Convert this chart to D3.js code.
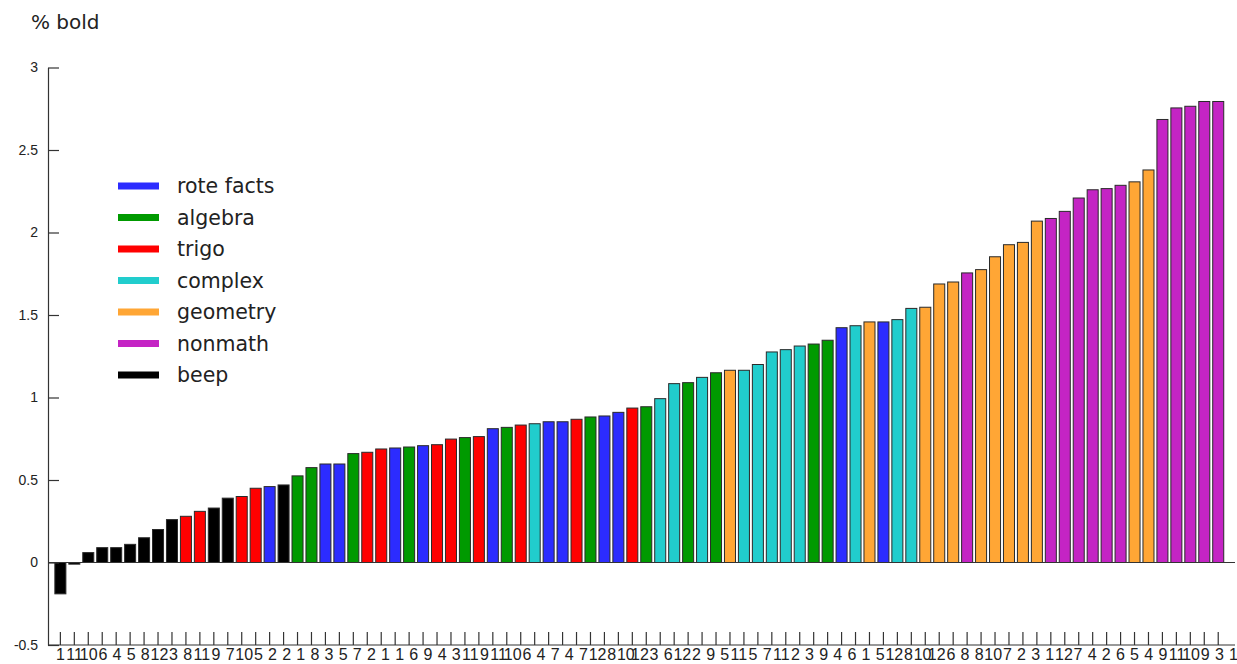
<!DOCTYPE html>
<html><head><meta charset="utf-8">
<script src="https://cdn.jsdelivr.net/npm/d3@7"></script>
<style>
html,body{margin:0;padding:0;background:#fff;}
svg{display:block;font-family:"Liberation Sans",Arial,sans-serif;}
</style></head>
<body><svg id="c" width="1237" height="664"></svg>
<script>
// ---- data ----
const barLabels = ["1","11","10","6","4","5","8","12","3","8","11","9","7",
"10","5","2","2","1","8","3","5","7","2","1","1","6","9",
"4","3","11","9","11","10","6","4","7","4","7","12","8","10",
"12","3","6","12","2","9","5","11","5","7","11","2","3","9",
"4","6","1","5","12","8","10","12","6","8","8","10","7","2",
"3","1","12","7","4","2","6","5","4","9","11","10","9","3","1"];

const barCategories = ["beep","beep","beep","beep","beep","beep","beep","beep","beep",
"trigo","trigo","beep","beep","trigo","trigo","rote facts","beep",
"algebra","algebra","rote facts","rote facts","algebra","trigo","trigo","rote facts","algebra","rote facts",
"trigo","trigo","algebra","trigo","rote facts","algebra","trigo","complex","rote facts","rote facts",
"trigo","algebra","rote facts","rote facts","trigo","algebra","complex","complex","algebra","complex",
"algebra","geometry","complex","complex","complex","complex","complex","algebra","algebra","rote facts",
"complex","geometry","rote facts","complex","complex","geometry","geometry","geometry","nonmath",
"geometry","geometry","geometry","geometry","geometry",
"nonmath","nonmath","nonmath","nonmath","nonmath","nonmath","geometry","geometry",
"nonmath","nonmath","nonmath","nonmath","nonmath"];

const barValues = [-0.19,-0.01,0.06,0.09,0.09,0.11,0.15,0.20,0.26,0.28,0.31,0.33,0.39,0.40,0.45,0.46,0.47,
0.525,0.575,0.597,0.597,0.66,0.668,0.688,0.694,0.70,0.708,0.714,0.748,0.757,0.763,0.811,0.819,0.833,0.841,
0.853,0.853,0.868,0.882,0.888,0.91,0.936,0.944,0.993,1.084,1.09,1.122,1.15,1.165,1.165,1.20,1.276,1.29,
1.312,1.324,1.347,1.423,1.435,1.458,1.458,1.472,1.54,1.547,1.688,1.70,1.755,1.775,1.853,1.926,1.94,
2.069,2.085,2.128,2.209,2.259,2.266,2.286,2.307,2.379,2.685,2.755,2.765,2.794,2.794];

const legendNames = ["rote facts","algebra","trigo","complex","geometry","nonmath","beep"];
const legendColors = ["#2c2cff","#009a00","#ff0000","#21cdcd","#ffa635","#c424c4","#000000"];
const yTicks = [-0.5,0,0.5,1,1.5,2,2.5,3];
const yTitle = "% bold";

// ---- drawing ----
const svg = d3.select("#c");
const color = d3.scaleOrdinal().domain(legendNames).range(legendColors);
const idx = d3.range(barValues.length);

const x = d3.scaleBand().domain(idx).range([53.4, 1225.2]).paddingInner(0.21).paddingOuter(0.105);
const xLab = d3.scalePoint().domain(idx).range([60, 1233]);
const y = d3.scaleLinear().domain([-0.5, 3]).range([645, 67.5]);

// bars
svg.append("g").selectAll("rect").data(idx).join("rect")
  .attr("x", i => x(i))
  .attr("width", x.bandwidth())
  .attr("y", i => Math.min(y(barValues[i]), y(0)))
  .attr("height", i => Math.abs(y(barValues[i]) - y(0)))
  .attr("fill", i => color(barCategories[i]))
  .attr("stroke", "#2a2a2a")
  .attr("stroke-width", 1);

// zero line
svg.append("line")
  .attr("x1", 48).attr("x2", 1235)
  .attr("y1", y(0)).attr("y2", y(0))
  .attr("stroke", "#333").attr("stroke-width", 1.2);

// y axis
const yAxis = svg.append("g").attr("transform", "translate(48,0)")
  .call(d3.axisLeft(y).tickValues(yTicks).tickFormat(d => String(d))
    .tickSizeInner(-11).tickSizeOuter(0).tickPadding(10));
yAxis.select(".domain").attr("stroke", "#333").attr("stroke-width", 1.2);
yAxis.selectAll(".tick line").attr("stroke", "#333").attr("stroke-width", 1.2);
yAxis.selectAll("text").attr("font-size", 14).attr("fill", "#222")
  .attr("font-family", "'Liberation Sans',Arial,sans-serif");

// x axis (ticks pointing up)
const xAxis = svg.append("g").attr("transform", "translate(0,645)")
  .call(d3.axisBottom(x).tickSizeInner(-13).tickSizeOuter(0).tickFormat(""));
xAxis.select(".domain").remove();
xAxis.selectAll(".tick line").attr("stroke", "#333").attr("stroke-width", 1.2);
svg.append("line").attr("x1", 48).attr("x2", 1235).attr("y1", 645).attr("y2", 645)
  .attr("stroke", "#333").attr("stroke-width", 1.2);

// x labels
const xl = svg.append("g").attr("transform", "translate(0,649)")
  .call(d3.axisBottom(xLab).tickSize(0).tickPadding(0).tickFormat(i => barLabels[i]));
xl.select(".domain").remove();
xl.selectAll("text").attr("font-size", 16).attr("fill", "#222")
  .attr("font-family", "'Liberation Sans',Arial,sans-serif");

// y title
svg.append("text").attr("x", 31).attr("y", 29).text(yTitle)
  .attr("font-family", "'DejaVu Sans',Verdana,sans-serif")
  .attr("font-size", 20).attr("fill", "#222");

// legend
const lg = svg.append("g").attr("font-family", "'DejaVu Sans',Verdana,sans-serif");
legendNames.forEach((n, k) => {
  const cy = 186 + k * 31.5;
  lg.append("line").attr("x1", 118).attr("x2", 159).attr("y1", cy).attr("y2", cy)
    .attr("stroke", legendColors[k]).attr("stroke-width", 7);
  lg.append("text").attr("x", 177).attr("y", cy + 7).text(n)
    .attr("font-size", 20.5).attr("fill", "#222");
});
</script>
</body></html>
